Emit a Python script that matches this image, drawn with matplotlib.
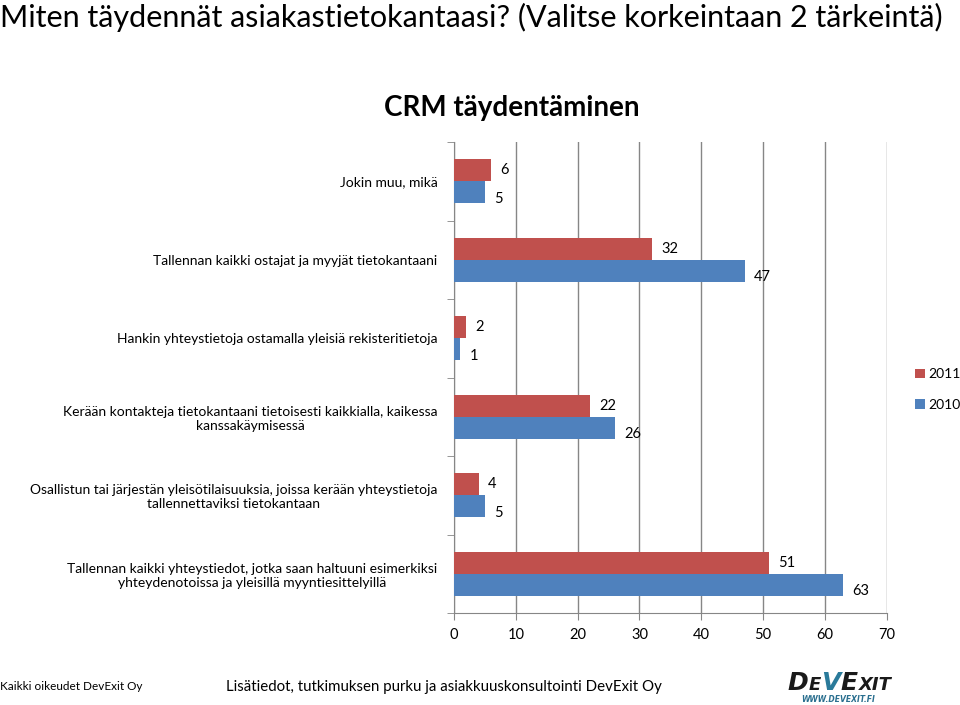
import numpy as np
import matplotlib
matplotlib.use("Agg")
import matplotlib.pyplot as plt

plt.rcParams['font.family'] = ['Lato', 'DejaVu Sans']

# Data (top category first)
categories = [
    "Jokin muu, mikä",
    "Tallennan kaikki ostajat ja myyjät tietokantaani",
    "Hankin yhteystietoja ostamalla yleisiä rekisteritietoja",
    "Kerään kontakteja tietokantaani tietoisesti kaikkialla, kaikessa\nkanssakäymisessä",
    "Osallistun tai järjestän yleisötilaisuuksia, joissa kerään yhteystietoja\ntallennettaviksi tietokantaan",
    "Tallennan kaikki yhteystiedot, jotka saan haltuuni esimerkiksi\nyhteydenotoissa ja yleisillä myyntiesittelyillä",
]
vals_2011 = [6, 32, 2, 22, 4, 51]
vals_2010 = [5, 47, 1, 26, 5, 63]
x_ticks = [0, 10, 20, 30, 40, 50, 60, 70]

red = "#c0504d"
blue = "#4f81bd"

fig = plt.figure(figsize=(9.6, 7.05), dpi=100)
ax = fig.add_axes([0.473, 0.1305, 0.4506, 0.668])

n = len(categories)
y = np.arange(n)
h = 0.28
ax.barh(y - h / 2, vals_2011, height=h, color=red, label="2011", zorder=3)
ax.barh(y + h / 2, vals_2010, height=h, color=blue, label="2010", zorder=3)

for yi, v in zip(y, vals_2011):
    ax.text(v + 1.5, yi - h / 2, str(v), va="center", ha="left", fontsize=10.5, color="black")
for yi, v in zip(y, vals_2010):
    ax.text(v + 1.5, yi + h / 2 + 0.08, str(v), va="center", ha="left", fontsize=10.5, color="black")

ax.set_ylim(n - 0.5, -0.5)
ax.set_xlim(0, 70)
ax.set_xticks(x_ticks)
ax.set_xticklabels([str(t) for t in x_ticks], fontsize=10.5)
ax.set_yticks(y)
ax.set_yticklabels(categories, fontsize=10)
for lab in ax.get_yticklabels():
    lab.set_multialignment("center")
ax.tick_params(axis="y", length=0, pad=12)
ax.set_yticks(np.arange(n + 1) - 0.5, minor=True)
ax.tick_params(axis="y", which="minor", length=5, color="#868686")
ax.tick_params(axis="x", length=5, color="#868686", pad=6)

ax.grid(axis="x", color="#868686", linewidth=1, zorder=0)
for s in ["top", "right"]:
    ax.spines[s].set_visible(False)
ax.spines["left"].set_color("#868686")
ax.spines["bottom"].set_color("#868686")

fig.legend(loc="center left", bbox_to_anchor=(0.953, 0.4475), frameon=False,
           fontsize=10, handlelength=0.7, handleheight=0.7, handletextpad=0.25,
           labelspacing=1.3, borderaxespad=0, borderpad=0)

fig.text(0.0, 0.975, "Miten täydennät asiakastietokantaasi? (Valitse korkeintaan 2 tärkeintä)",
         fontsize=22, ha="left", va="center")
fig.text(0.533, 0.847, "CRM täydentäminen", fontsize=20, ha="center", va="center",
         fontweight="bold")

fig.text(0.0, 0.026, "Kaikki oikeudet DevExit Oy", fontsize=8.5, ha="left", va="center")
fig.text(0.235, 0.026, "Lisätiedot, tutkimuksen purku ja asiakkuuskonsultointi DevExit Oy",
         fontsize=10.8, ha="left", va="center")

# DevExit logo drawn as text pieces (small caps look)
fig.canvas.draw()
renderer = fig.canvas.get_renderer()
logo_parts = [("D", 18, "#1a1a1a"), ("E", 13, "#1a1a1a"), ("V", 18, "#2a7a9a"),
              ("E", 18, "#1a1a1a"), ("XIT", 13, "#1a1a1a")]
x0 = 787
for txt, size, col in logo_parts:
    t = fig.text(x0 / 960, 1 - 690 / 705, txt, fontsize=size, color=col, ha="left",
                 va="baseline", fontweight="bold", style="italic", family="DejaVu Sans")
    x0 = t.get_window_extent(renderer).x1 + 0.5
fig.text(838 / 960, 1 - 700 / 705, "WWW.DEVEXIT.FI", fontsize=5.5, ha="center", va="center",
         fontweight="bold", style="italic", color="#2a6f8f", family="DejaVu Sans")

fig.savefig("out.png", dpi=100)
